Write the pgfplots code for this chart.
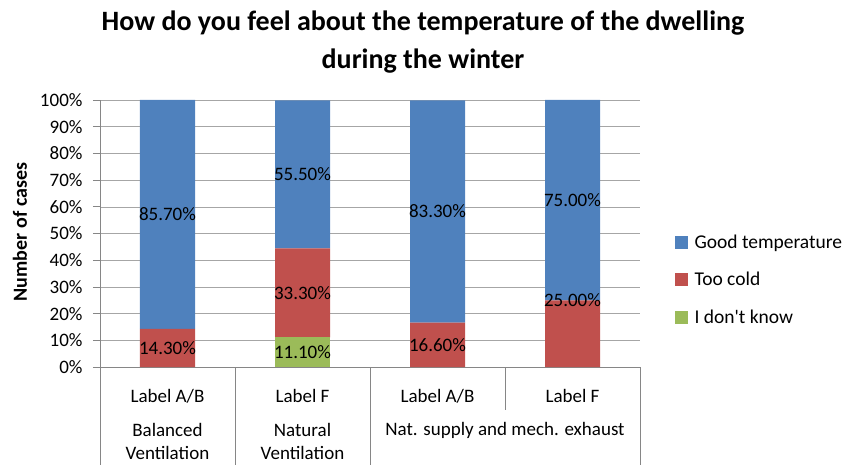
\documentclass[border=0pt]{standalone}
\usepackage{pgfplots}
\usepackage{pgfplotstable}
\pgfplotsset{compat=1.18}
\usepackage{fontspec}
\setmainfont{Carlito}
\definecolor{cblue}{HTML}{4F81BD}
\definecolor{cred}{HTML}{C0504D}
\definecolor{cgreen}{HTML}{9BBB59}
\definecolor{axgray}{HTML}{868686}
\definecolor{grgray}{HTML}{A6A6A6}
\pgfplotstableread{
x dk cold good
0 0 14.3 85.7
1 11.1 33.3 55.5
2 0 16.6 83.3
3 0 25.0 75.0
}\data
\pgfplotstableread{
x y lab
0 7.15 14.30
0 57.15 85.70
1 5.55 11.10
1 27.75 33.30
1 72.15 55.50
2 8.3 16.60
2 58.25 83.30
3 25.0 25.00
3 62.5 75.00
}\labels
\begin{document}
\begin{tikzpicture}
\pgfplotsset{
  base/.style={scale only axis, width=540pt, height=267pt, xmin=-0.5, xmax=3.5, ymin=0, ymax=100, at={(0pt,0pt)}, anchor=south west, clip=false},
  sq/.style={legend image code/.code={\fill[##1, draw=none] (0pt,-6.5pt) rectangle (13pt,6.5pt); \path (17pt,0pt);}},
}
\path[use as bounding box] (-100pt,-97pt) rectangle (746pt,367pt);
\begin{axis}[base,
  ybar stacked, bar width=55pt,
  axis lines*=left,
  axis line style={axgray, line width=0.8pt},
  ytick={0,10,...,100},
  yticklabel={\pgfmathprintnumber{\tick}\%},
  /pgf/number format/assume math mode=true,
  ymajorgrids, grid style={grgray, line width=0.6pt},
  ytick style={axgray, line width=0.8pt},
  tick align=outside, major tick length=7pt,
  xtick=data, xticklabels={Label A/B, Label F, Label A/B, Label F},
  xtick style={draw=none},
  xticklabel style={anchor=center, yshift=-22pt},
  yticklabel style={xshift=-7pt},
  tick label style={font=\fontsize{19}{22}\selectfont},
  reverse legend,
  legend style={at={(1.058,0.515)}, anchor=north west, draw=none, fill=none,
    font=\fontsize{19.5}{22}\selectfont, row sep=16.5pt,
    nodes={inner sep=3pt}},
  legend cell align=left,
]
\addplot[fill=cgreen, draw=none, sq] table[x=x,y=dk]{\data};
\addplot[fill=cred, draw=none, sq] table[x=x,y=cold]{\data};
\addplot[fill=cblue, draw=none, sq] table[x=x,y=good]{\data};
\legend{I don\textquotesingle t know, Too cold, Good temperature}
\end{axis}
\begin{axis}[base, hide axis]
\addplot[draw=none, mark=none, nodes near coords={\pgfplotspointmeta\%},
  point meta=explicit symbolic,
  every node near coord/.append style={anchor=center, text=black, font=\fontsize{19}{22}\selectfont}]
  table[x=x,y=y,meta=lab]{\labels};
\end{axis}
% category separators
\foreach \xx in {0,135,270,540} {\draw[axgray, line width=0.8pt] (\xx pt,0pt) -- (\xx pt,-100pt);}
\draw[axgray, line width=0.8pt] (405pt,0pt) -- (405pt,-43pt);
\begin{scope}[every node/.style={font=\fontsize{19}{22}\selectfont, inner sep=0pt}]
\node at (67.5pt,-63pt) {Balanced};
\node at (67.5pt,-86pt) {Ventilation};
\node at (202.5pt,-63pt) {Natural};
\node at (202.5pt,-86pt) {Ventilation};
\node at (405pt,-63pt) {Nat. supply and mech. exhaust};
\end{scope}
\node[rotate=90, font=\fontsize{20}{24}\selectfont\bfseries] at (-80pt,135pt) {Number of cases};
\node[font=\fontsize{28}{38}\selectfont\bfseries, align=center] at (323pt,325pt) {How do you feel about the temperature of the dwelling\\during the winter};
\end{tikzpicture}
\end{document}
